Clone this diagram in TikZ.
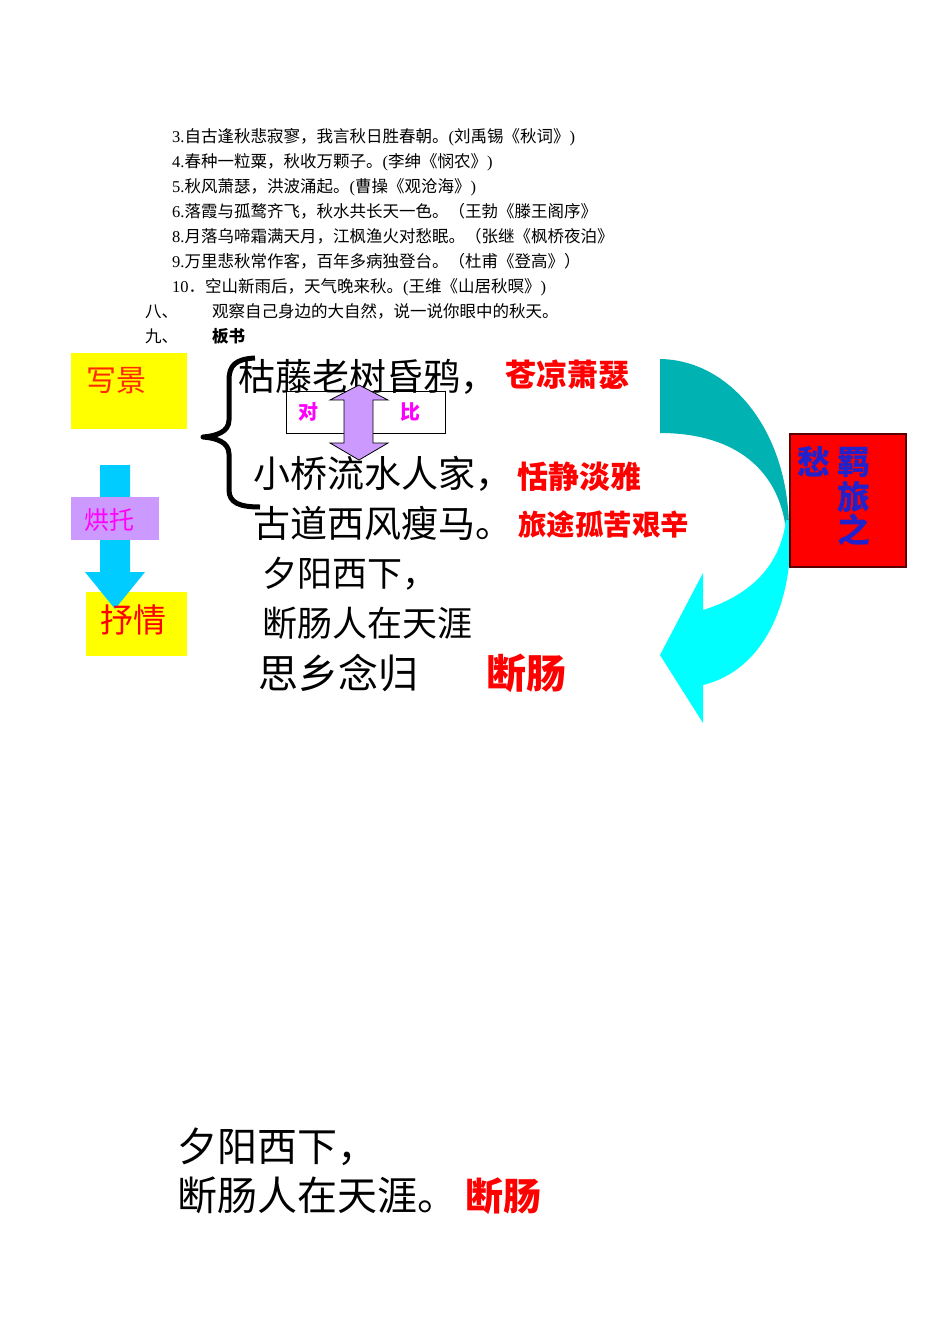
\documentclass[tikz,border=0pt]{standalone}
\usepackage{fontspec}
\setmainfont{Noto Sans CJK SC}
\newfontfamily\cjk{Noto Sans CJK SC}
\newfontfamily\lt{Liberation Serif}
\newcommand\fsz[1]{\fontsize{#1}{#1}\selectfont}
\definecolor{yel}{HTML}{FFFF00}
\definecolor{lav}{HTML}{CC99FF}
\definecolor{skyc}{HTML}{00CCFF}
\definecolor{tealc}{HTML}{00B2B2}
\definecolor{cyanc}{HTML}{00FFFF}
\definecolor{redc}{HTML}{FF0000}
\definecolor{orred}{HTML}{FF2A00}
\definecolor{magc}{HTML}{FF00FF}
\definecolor{bluec}{HTML}{2222CC}
\definecolor{dred}{HTML}{5A0000}
\tikzset{
  t/.style={inner sep=0pt, anchor=base west, font=\cjk},
  list/.style={t, font=\cjk\fsz{16.5}},
  poem/.style={t, font=\cjk\fsz{37}},
  redlab/.style={t, text=redc, font=\cjk\bfseries\fsz{31}},
  box/.style={inner sep=0pt, anchor=north west, draw=none},
}
\begin{document}
\begin{tikzpicture}[x=1pt,y=-1pt]
\useasboundingbox (0,0) rectangle (950,1344);
% ---- top list
\node[list] (l3) at (172,142.3) {{\lt 3.}自古逢秋悲寂寥，我言秋日胜春朝。{\lt (}刘禹锡《秋词》{\lt )}};
\node[list] (l4) at (172,167.3) {{\lt 4.}春种一粒粟，秋收万颗子。{\lt (}李绅《悯农》{\lt )}};
\node[list] (l5) at (172,192.3) {{\lt 5.}秋风萧瑟，洪波涌起。{\lt (}曹操《观沧海》{\lt )}};
\node[list] (l6) at (172,217.3) {{\lt 6.}落霞与孤鹜齐飞，秋水共长天一色。（王勃《滕王阁序》};
\node[list] (l8) at (172,242.3) {{\lt 8.}月落乌啼霜满天月，江枫渔火对愁眠。（张继《枫桥夜泊》};
\node[list] (l9) at (172,267.3) {{\lt 9.}万里悲秋常作客，百年多病独登台。（杜甫《登高》）};
\node[list] (l10) at (172,292.3) {{\lt 10}．空山新雨后，天气晚来秋。{\lt (}王维《山居秋暝》{\lt )}};
\node[list] (n8) at (145,317.3) {八、};
\node[list] (n8t) at (212,317.3) {观察自己身边的大自然，说一说你眼中的秋天。};
\node[list] (n9) at (145,342.3) {九、};
\node[list, font=\cjk\bfseries\fsz{16.5}] (n9t) at (212,342.3) {板书};
% ---- left boxes
\node[box, fill=yel, minimum width=116pt, minimum height=76pt] (xjbox) at (71,353) {};
\node[t, text=orred, font=\cjk\fsz{30}] (xj) at (86,391.4) {写景};
\node[box, fill=yel, minimum width=101pt, minimum height=64pt] (sqbox) at (86,592) {};
\fill[skyc] (100,465) -- (130,465) -- (130,572) -- (145,572) -- (115,609) -- (85,572) -- (100,572) -- cycle;
\node[t, text=redc, font=\cjk\fsz{33}] (sq) at (100,632.5) {抒情};
\node[box, fill=lav, minimum width=88pt, minimum height=43pt] (htbox) at (71,497) {};
\node[t, text=magc, font=\cjk\fsz{25}] (ht) at (84,529.5) {烘托};
% ---- brace
\draw[line width=5pt, line join=round, line cap=butt] (255,358) .. controls (236,359) and (229,365) .. (229,380) -- (229,420)
  .. controls (229,432) and (216,436) .. (203,437) .. controls (216,438) and (229,442) .. (229,454)
  -- (229,490) .. controls (229,503) and (240,507) .. (260,507);
% ---- poem
\node[poem] (p1) at (238,390) {枯藤老树昏鸦，};
\node[poem] (p2) at (253,487) {小桥流水人家，};
\node[poem] (p3) at (253,537) {古道西风瘦马。};
\node[poem, font=\cjk\fsz{35}] (p4) at (262,586.3) {夕阳西下，};
\node[poem, font=\cjk\fsz{35}] (p5) at (262,636.3) {断肠人在天涯};
\node[t, font=\cjk\fsz{40}] (p6) at (258,688) {思乡念归};
\node[t, text=redc, font=\cjk\bfseries\fsz{40}] (dc) at (486,688) {断肠};
\node[redlab] (r1) at (505,386.8) {苍凉萧瑟};
\node[redlab] (r2) at (517,488.8) {恬静淡雅};
\node[redlab, font=\cjk\bfseries\fsz{28.5}] (r3) at (518,535.8) {旅途孤苦艰辛};
% ---- contrast box
\node[box, draw=black, line width=1pt, minimum width=159pt, minimum height=42pt] (dbbox) at (286,391) {};
\node[t, text=magc, font=\cjk\bfseries\fsz{20}] (dui) at (298,419.6) {对};
\node[t, text=magc, font=\cjk\bfseries\fsz{20}] (bi) at (400,419.6) {比};
\filldraw[fill=lav, draw=black, line width=0.8pt] (359,385) -- (388,400) -- (373,400) -- (373,443) -- (388,443) -- (359,460)
  -- (330,443) -- (344,443) -- (344,400) -- (330,400) -- cycle;
% ---- curved arrow
\fill[tealc] (660,359) .. controls (730,360) and (788,430) .. (789,528) -- (785,523)
  .. controls (775,465) and (730,433) .. (660,433) -- cycle;
\fill[cyanc] (790,520) .. controls (795,600) and (765,670) .. (703,685) -- (703,723) -- (660,655) -- (703,573) -- (703,610)
  .. controls (745,597) and (780,570) .. (786,520) -- cycle;
% ---- red box
\node[box, fill=redc, draw=dred, line width=1.5pt, minimum width=116pt, minimum height=133pt] (rbox) at (789,433) {};
\node[t, text=bluec, font=\cjk\bfseries\fsz{33}] (chou) at (797,474.5) {愁};
\node[t, text=bluec, font=\cjk\bfseries\fsz{33}] (ji) at (837,474.5) {羁};
\node[t, text=bluec, font=\cjk\bfseries\fsz{33}] (lv) at (837,509.5) {旅};
\node[t, text=bluec, font=\cjk\bfseries\fsz{33}] (zhi) at (837,542.5) {之};
% ---- bottom
\node[t, font=\cjk\fsz{40}] (b1) at (177,1161.2) {夕阳西下，};
\node[t, font=\cjk\fsz{40}] (b2) at (177,1210.2) {断肠人在天涯。};
\node[t, text=redc, font=\cjk\bfseries\fsz{38}] (b3) at (465,1210.2) {断肠};
\end{tikzpicture}
\end{document}
